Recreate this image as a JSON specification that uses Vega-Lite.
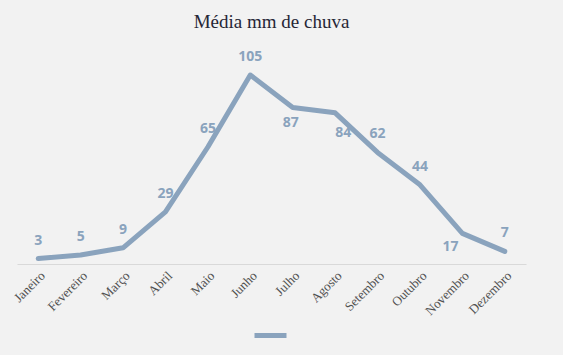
{
  "$schema": "https://vega.github.io/schema/vega-lite/v6.json",
  "width": 509,
  "height": 216,
  "autosize": "none",
  "padding": {"left": 17, "top": 48, "right": 37, "bottom": 91},
  "background": "#f2f2f2",
  "title": {
    "text": "Média mm de chuva",
    "font": "Liberation Serif",
    "fontSize": 19,
    "fontWeight": "normal",
    "color": "#262636",
    "anchor": "middle",
    "offset": 16
  },
  "data": {
    "values": [
      {"mes": "Janeiro", "mm": 3},
      {"mes": "Fevereiro", "mm": 5},
      {"mes": "Março", "mm": 9},
      {"mes": "Abril", "mm": 29},
      {"mes": "Maio", "mm": 65},
      {"mes": "Junho", "mm": 105},
      {"mes": "Julho", "mm": 87},
      {"mes": "Agosto", "mm": 84},
      {"mes": "Setembro", "mm": 62},
      {"mes": "Outubro", "mm": 44},
      {"mes": "Novembro", "mm": 17},
      {"mes": "Dezembro", "mm": 7}
    ]
  },
  "encoding": {
    "x": {
      "field": "mes",
      "type": "ordinal",
      "sort": null,
      "scale": {"type": "point", "padding": 0.5},
      "axis": {
        "title": null,
        "labelAngle": -45,
        "labelFont": "Liberation Serif",
        "labelFontSize": 13,
        "labelColor": "#505050",
        "domainColor": "#d9d9d9",
        "ticks": false,
        "labelPadding": 5,
        "grid": false
      }
    },
    "y": {
      "field": "mm",
      "type": "quantitative",
      "scale": {"domain": [0, 120]},
      "axis": null
    }
  },
  "layer": [
    {
      "mark": {"type": "line", "strokeWidth": 5, "strokeCap": "round", "strokeJoin": "round"},
      "encoding": {
        "color": {
          "datum": "Média",
          "scale": {"range": ["#8aa3bd"]},
          "legend": {
            "title": null,
            "orient": "none",
            "legendX": 235,
            "legendY": 269,
            "symbolType": "stroke",
            "symbolSize": 1024,
            "symbolStrokeWidth": 5,
            "labelExpr": "''",
            "labelFontSize": 1
          }
        }
      }
    },
    {
      "transform": [{"filter": "indexof(['Julho','Agosto','Novembro'], datum.mes) < 0"}],
      "mark": {"type": "text", "dy": -18, "font": "Open Sans", "fontWeight": "bold", "fontSize": 14, "color": "#8aa3bd"},
      "encoding": {"text": {"field": "mm", "type": "quantitative"}}
    },
    {
      "transform": [{"filter": "datum.mes == 'Julho'"}],
      "mark": {"type": "text", "dy": 16, "dx": -2, "font": "Open Sans", "fontWeight": "bold", "fontSize": 14, "color": "#8aa3bd"},
      "encoding": {"text": {"field": "mm", "type": "quantitative"}}
    },
    {
      "transform": [{"filter": "datum.mes == 'Agosto'"}],
      "mark": {"type": "text", "dy": 20, "dx": 8, "font": "Open Sans", "fontWeight": "bold", "fontSize": 14, "color": "#8aa3bd"},
      "encoding": {"text": {"field": "mm", "type": "quantitative"}}
    },
    {
      "transform": [{"filter": "datum.mes == 'Novembro'"}],
      "mark": {"type": "text", "dy": 14, "dx": -12, "font": "Open Sans", "fontWeight": "bold", "fontSize": 14, "color": "#8aa3bd"},
      "encoding": {"text": {"field": "mm", "type": "quantitative"}}
    }
  ],
  "config": {"view": {"stroke": null}}
}
